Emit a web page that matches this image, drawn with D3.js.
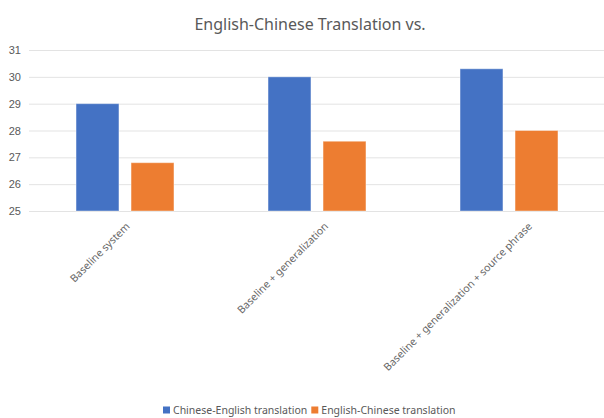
<!DOCTYPE html>
<html>
<head>
<meta charset="utf-8">
<script src="https://cdn.jsdelivr.net/npm/d3@7"></script>
<style>
  body { margin: 0; background: #fff; }
  svg { display: block; font-family: "Noto Sans", sans-serif; }
</style>
</head>
<body>
<svg></svg>
<script>
(function (d3) {
    'use strict';
    // chart data
    const categories = ['Baseline system', 'Baseline + generalization', 'Baseline + generalization + source phrase'];
    const seriesNames = ['Chinese-English translation', 'English-Chinese translation'];
    const chineseEnglish = [29.0, 30.0, 30.3];
    const englishChinese = [26.8, 27.6, 28.0];
    const yTicks = [25, 26, 27, 28, 29, 30, 31];

    const colors = ['#4472C4', '#ED7D31'];
    const width = 604;
    const height = 418;
    const margin = { top: 50, right: -1, bottom: 207, left: 29 };
    const innerWidth = width - margin.left - margin.right;
    const innerHeight = height - margin.top - margin.bottom;

    const svg = d3.select('svg')
        .attr('width', width)
        .attr('height', height);

    svg.append('text')
        .attr('x', 310)
        .attr('y', 30)
        .attr('text-anchor', 'middle')
        .attr('font-size', 16)
        .attr('fill', '#595959')
        .text('English-Chinese Translation vs.');

    const g = svg.append('g')
        .attr('transform', `translate(${margin.left}, ${margin.top})`);

    const x = d3.scaleBand()
        .domain(categories)
        .range([0, innerWidth]);

    const xInner = d3.scaleBand()
        .domain(seriesNames)
        .range([x.bandwidth() * 0.245, x.bandwidth() * 0.755])
        .paddingInner(0.22);

    const y = d3.scaleLinear()
        .domain([25, 31])
        .range([innerHeight, 0]);

    // gridlines + y labels
    const yAxis = g.append('g')
        .call(d3.axisLeft(y).tickValues(yTicks).tickFormat(d3.format('d'))
            .tickSize(-innerWidth).tickPadding(8));
    yAxis.select('.domain').remove();
    yAxis.selectAll('.tick line').attr('stroke', '#e3e3e3').attr('stroke-width', 1);
    yAxis.selectAll('.tick text')
        .attr('fill', '#595959')
        .attr('font-size', 11);

    const rows = categories.map((c, i) => ({
        category: c,
        values: [chineseEnglish[i], englishChinese[i]]
    }));

    const groups = g.selectAll('.group').data(rows)
        .enter().append('g')
            .attr('class', 'group')
            .attr('transform', d => `translate(${x(d.category)}, 0)`);

    groups.selectAll('rect')
        .data(d => d.values.map((v, j) => ({ series: seriesNames[j], value: v, j })))
        .enter().append('rect')
            .attr('x', d => xInner(d.series))
            .attr('y', d => y(d.value))
            .attr('width', xInner.bandwidth())
            .attr('height', d => y(25) - y(d.value))
            .attr('fill', d => colors[d.j])
            .attr('stroke', '#ffffff')
            .attr('stroke-opacity', 0.4)
            .attr('stroke-width', 1);

    // rotated category labels
    const labels = g.selectAll('.xlabel').data(categories)
        .enter().append('text')
            .attr('class', 'xlabel')
            .attr('font-size', 10.5)
            .attr('fill', '#666666')
            .attr('text-anchor', 'end')
            .text(d => d);
    labels.attr('transform', function (d) {
        const len = this.getComputedTextLength();
        const cx = x(d) + x.bandwidth() / 2 - 6 + len * 0.145;
        return `translate(${cx}, ${innerHeight + 16}) rotate(-45)`;
    });

    // legend
    const legend = svg.append('g')
        .attr('transform', 'translate(163, 410)');
    let offset = 0;
    seriesNames.forEach((name, i) => {
        const item = legend.append('g').attr('transform', `translate(${offset}, 0)`);
        item.append('rect')
            .attr('x', 0).attr('y', -3.5)
            .attr('width', 7).attr('height', 7)
            .attr('fill', colors[i]);
        const t = item.append('text')
            .attr('x', 10)
            .attr('dy', '0.35em')
            .attr('font-size', 10.5)
            .attr('fill', '#595959')
            .text(name);
        offset += 10 + t.node().getComputedTextLength() + 4;
    });
}(d3));
</script>
</body>
</html>
